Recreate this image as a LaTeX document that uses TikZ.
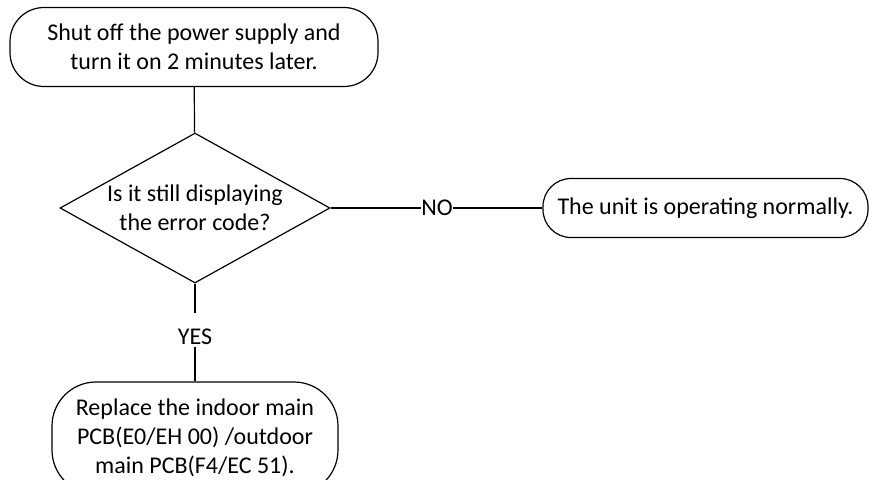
\documentclass[tikz,border=0pt]{standalone}
\usepackage{fontspec}
\setmainfont{Carlito}
\usetikzlibrary{shapes}

\begin{document}
\begin{tikzpicture}[x=0.5pt,y=-0.5pt,line width=0.6pt,
  font=\fontsize{12}{14.5}\selectfont,
  roundbox/.style={draw,align=center,inner sep=0pt},
  decision/.style={draw,diamond,align=center,inner sep=0pt,aspect=1.8,minimum width=135pt,minimum height=75pt},
  answer/.style={fill=white,inner xsep=0pt,inner ysep=1pt}]
\useasboundingbox (0,0) rectangle (869,479);
\node[roundbox,rounded corners=17pt,minimum width=184pt,minimum height=39.5pt] (SHUT) at (194,47) {Shut off the power supply and\\turn it on 2 minutes later.};
\node[decision] (CHECK) at (195,208) {Is it still displaying\\the error code?};
\node[answer] (NO) at (437,208) {NO};
\node[roundbox,rounded corners=14pt,minimum width=162.5pt,minimum height=29.5pt] (NORMAL) at (705.5,208) {The unit is operating normally.};
\node[answer] (YES) at (195,337) {YES};
\node[roundbox,rounded corners=22pt,minimum width=143pt,minimum height=56pt] (REPLACE) at (195,438) {Replace the indoor main\\PCB(E0/EH 00) /outdoor\\main PCB(F4/EC 51).};
\draw (SHUT) to (CHECK);
\draw (CHECK) to (NO);
\draw (NO) to (NORMAL);
\draw [shorten >=7pt] (CHECK) to (YES);
\draw (YES) to (REPLACE);
\end{tikzpicture}
\end{document}
